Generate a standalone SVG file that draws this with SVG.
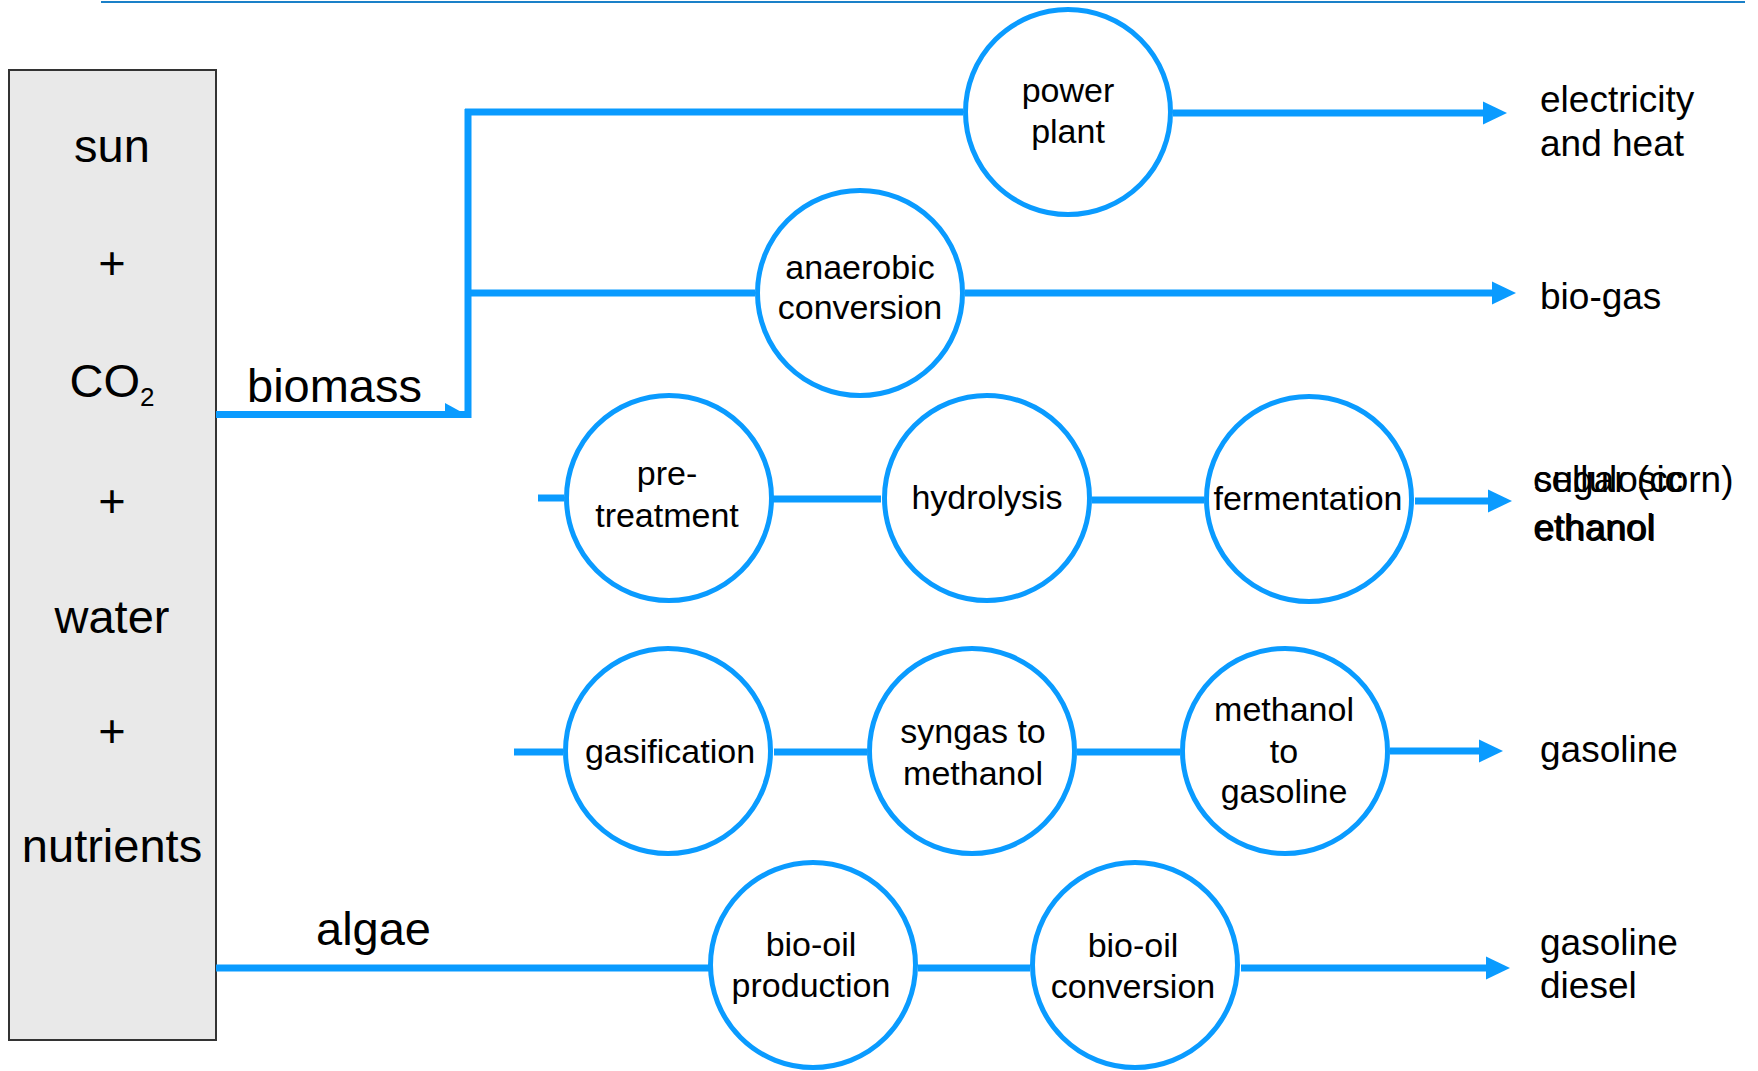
<svg xmlns="http://www.w3.org/2000/svg" width="1758" height="1071" viewBox="0 0 1758 1071">
  <style>
    .lbl { font-family: "Liberation Sans", Arial, sans-serif; fill: #000; }
    .src { font-size: 47px; text-anchor: middle; }
    .proc { font-size: 34px; text-anchor: middle; }
    .out { font-size: 37px; }
    .big { font-size: 47px; }
    .node { fill: #fff; stroke: #0a9bff; stroke-width: 5; }
    .conn { fill: none; stroke: #0a9bff; stroke-width: 7; }
    .conn-arrow { fill: none; stroke: #0a9bff; stroke-width: 7; marker-end: url(#head); }
  </style>
  <defs>
    <marker id="head" markerUnits="userSpaceOnUse" markerWidth="24" markerHeight="24" viewBox="0 0 24 24" refX="12" refY="12" orient="auto">
      <path d="M0,0.5 L24,12 L0,23.5 Z" fill="#0a9bff"/>
    </marker>
  </defs>

  <rect width="1758" height="1071" fill="#fff"/>

  <!-- header rule -->
  <line x1="101" y1="2" x2="1745" y2="2" stroke="#1a80c8" stroke-width="2"/>

  <!-- source box -->
  <g id="inputs">
    <rect x="9" y="70" width="207" height="970" fill="#e9e9e9" stroke="#333" stroke-width="2"/>
    <text class="lbl src" x="112" y="162">sun</text>
    <text class="lbl src" x="112" y="279">+</text>
    <text class="lbl src" x="112" y="397">CO<tspan font-size="26" dy="9">2</tspan></text>
    <text class="lbl src" x="112" y="517">+</text>
    <text class="lbl src" x="112" y="633">water</text>
    <text class="lbl src" x="112" y="747">+</text>
    <text class="lbl src" x="112" y="862">nutrients</text>
  </g>

  <!-- connectors -->
  <g id="connectors">
    <path class="conn" d="M216,414.5 H466"/>
    <polygon points="445,403 466,414.5 445,414.5" fill="#0a9bff"/>
    <path class="conn" d="M468,109 V418" stroke-width="6"/>
    <path class="conn" d="M465,112 H963"/>
    <path class="conn" d="M468,293 H755"/>
    <path class="conn-arrow" d="M1173,113 H1495"/>
    <path class="conn-arrow" d="M965,293 H1504"/>
    <path class="conn" d="M538,498 H564"/>
    <path class="conn" d="M773,499 H881"/>
    <path class="conn" d="M1092,500 H1204"/>
    <path class="conn-arrow" d="M1415,501 H1500"/>
    <path class="conn" d="M514,752 H563"/>
    <path class="conn" d="M774,752 H867"/>
    <path class="conn" d="M1077,752 H1180"/>
    <path class="conn-arrow" d="M1390,751 H1491"/>
    <path class="conn" d="M216,968 H709"/>
    <path class="conn" d="M918,968 H1030"/>
    <path class="conn-arrow" d="M1241,968 H1498"/>
  </g>

  <!-- branch labels -->
  <text id="biomass" class="lbl big" x="247" y="402">biomass</text>
  <text id="algae" class="lbl big" x="316" y="945">algae</text>

  <!-- process nodes -->
  <g id="power-plant">
    <circle class="node" cx="1068" cy="112" r="102.5"/>
    <text class="lbl proc" x="1068" y="102">power</text>
    <text class="lbl proc" x="1068" y="143">plant</text>
  </g>
  <g id="anaerobic-conversion">
    <circle class="node" cx="860" cy="293" r="102.5"/>
    <text class="lbl proc" x="860" y="279">anaerobic</text>
    <text class="lbl proc" x="860" y="319">conversion</text>
  </g>
  <g id="pre-treatment">
    <circle class="node" cx="669" cy="498" r="102.5"/>
    <text class="lbl proc" x="667" y="485">pre-</text>
    <text class="lbl proc" x="667" y="527">treatment</text>
  </g>
  <g id="hydrolysis">
    <circle class="node" cx="987" cy="498" r="102.5"/>
    <text class="lbl proc" x="987" y="509">hydrolysis</text>
  </g>
  <g id="fermentation">
    <circle class="node" cx="1309" cy="499" r="102.5"/>
    <text class="lbl proc" x="1308" y="510">fermentation</text>
  </g>
  <g id="gasification">
    <circle class="node" cx="668" cy="751" r="102.5"/>
    <text class="lbl proc" x="670" y="763">gasification</text>
  </g>
  <g id="syngas-to-methanol">
    <circle class="node" cx="972" cy="751" r="102.5"/>
    <text class="lbl proc" x="973" y="743">syngas to</text>
    <text class="lbl proc" x="973" y="785">methanol</text>
  </g>
  <g id="methanol-to-gasoline">
    <circle class="node" cx="1285" cy="751" r="102.5"/>
    <text class="lbl proc" x="1284" y="721">methanol</text>
    <text class="lbl proc" x="1284" y="763">to</text>
    <text class="lbl proc" x="1284" y="803">gasoline</text>
  </g>
  <g id="bio-oil-production">
    <circle class="node" cx="813" cy="965" r="102.5"/>
    <text class="lbl proc" x="811" y="956">bio-oil</text>
    <text class="lbl proc" x="811" y="997">production</text>
  </g>
  <g id="bio-oil-conversion">
    <circle class="node" cx="1135" cy="965" r="102.5"/>
    <text class="lbl proc" x="1133" y="957">bio-oil</text>
    <text class="lbl proc" x="1133" y="998">conversion</text>
  </g>

  <!-- products -->
  <g id="electricity-and-heat">
    <text class="lbl out" x="1540" y="112">electricity</text>
    <text class="lbl out" x="1540" y="156">and heat</text>
  </g>
  <g id="bio-gas">
    <text class="lbl out" x="1540" y="309">bio-gas</text>
  </g>
  <!-- two product labels printed on top of each other -->
  <g id="ethanol">
    <text class="lbl out" x="1533" y="492">cellulosic</text>
    <text class="lbl out" x="1533" y="540">ethanol</text>
    <text class="lbl out" x="1534" y="492" font-size="38">sugar (corn)</text>
    <text class="lbl out" x="1534.5" y="540.5">ethanol</text>
  </g>
  <g id="gasoline">
    <text class="lbl out" x="1540" y="762">gasoline</text>
  </g>
  <g id="gasoline-diesel">
    <text class="lbl out" x="1540" y="955">gasoline</text>
    <text class="lbl out" x="1540" y="998">diesel</text>
  </g>
</svg>
